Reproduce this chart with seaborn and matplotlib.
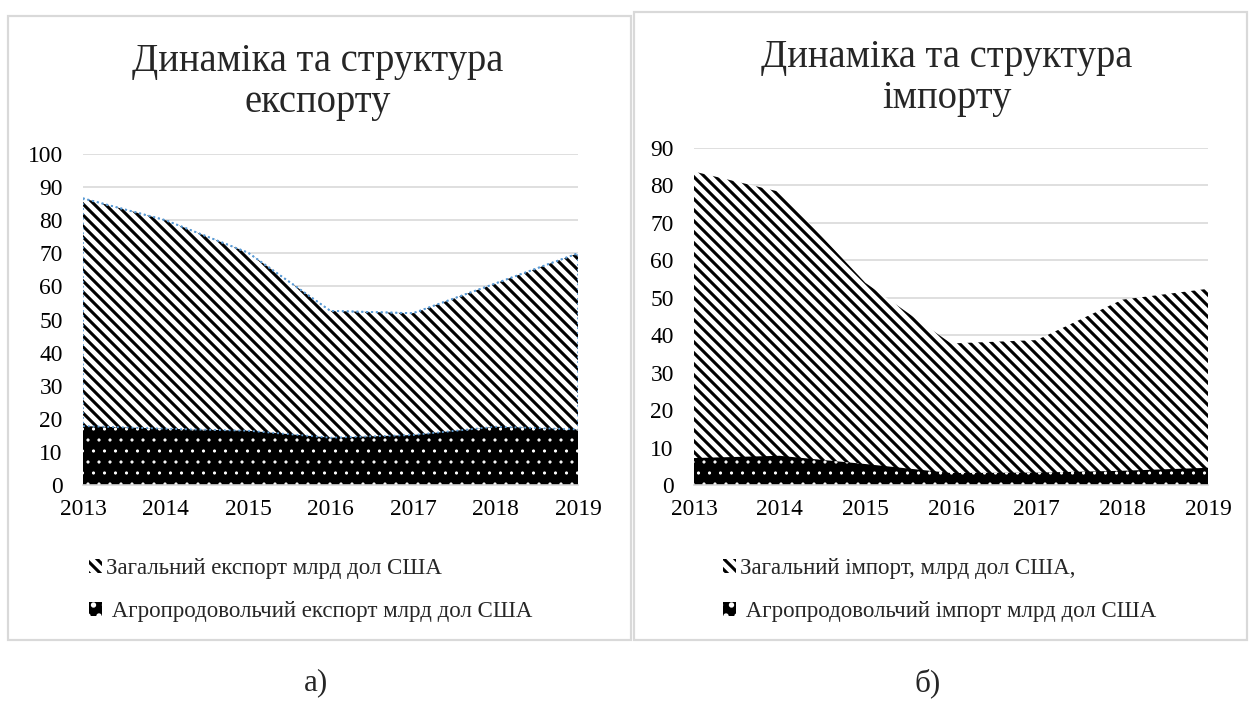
import numpy as np
import pandas as pd
import matplotlib
matplotlib.use("Agg")
import matplotlib as mpl
import matplotlib.pyplot as plt
from matplotlib.patches import Rectangle
import seaborn as sns

# --- données ---
years = [2013, 2014, 2015, 2016, 2017, 2018, 2019]
export_total = [86.6, 80.0, 70.2, 52.6, 51.9, 60.9, 70.0]
export_agro = [17.8, 17.0, 16.4, 14.3, 15.1, 17.6, 16.8]
import_total = [83.7, 78.3, 54.0, 37.8, 38.7, 49.5, 52.4]
import_agro = [7.2, 7.8, 5.6, 3.2, 3.3, 3.8, 4.6]

titles = ["Динаміка та структура\nекспорту", "Динаміка та структура\nімпорту"]
labels_total = ["Загальний експорт млрд дол США", "Загальний імпорт, млрд дол США,"]
labels_agro = [" Агропродовольчий експорт млрд дол США", " Агропродовольчий імпорт млрд дол США"]
panel_tags = ["а)", "б)"]

df_exp = pd.DataFrame({"year": years, "total": export_total, "agro": export_agro})
df_imp = pd.DataFrame({"year": years, "total": import_total, "agro": import_agro})

DPI = 132
W, H = 1251, 704

sns.set_style("white")
plt.rcParams["font.family"] = ["Liberation Serif", "DejaVu Serif"]
plt.rcParams["hatch.linewidth"] = 1.7

fig = plt.figure(figsize=(W / DPI, H / DPI), dpi=DPI)

gris = "#d9d9d9"
bleu = "#5b9bd5"

# cadres des deux panneaux
fig.patches.append(Rectangle((8 / W, 1 - 640 / H), 623 / W, 624 / H, transform=fig.transFigure,
                             fill=False, edgecolor=gris, linewidth=1.2))
fig.patches.append(Rectangle((634 / W, 1 - 640 / H), 613 / W, 628 / H, transform=fig.transFigure,
                             fill=False, edgecolor=gris, linewidth=1.2))

ax1 = fig.add_axes([83 / W, 1 - 485 / H, 495 / W, 331 / H])
ax2 = fig.add_axes([694 / W, 1 - 485 / H, 514 / W, 337 / H])

panels = [
    (ax1, df_exp, 100, True, 318, 82, 89, 558),
    (ax2, df_imp, 90, False, 947, 78, 723, 558),
]

for i, (ax, df, ymax, contour, tx, ty, lx, ly) in enumerate(panels):
    with mpl.rc_context({"hatch.linewidth": 1.7}):
        f_total = ax.fill_between(df["year"], 0, df["total"], facecolor="white", edgecolor="black",
                                  linewidth=0, hatch="\\\\\\\\", zorder=2, label=labels_total[i])
    if contour:
        sns.lineplot(data=df, x="year", y="total", ax=ax, color=bleu, linestyle=":",
                     linewidth=1.0, zorder=3, legend=False)
        ax.fill_between(df["year"], 0, df["total"], facecolor="none", edgecolor=bleu,
                        linestyle=":", linewidth=1.0, zorder=3)
    with mpl.rc_context({"hatch.linewidth": 0.5}):
        f_agro = ax.fill_between(df["year"], 0, df["agro"], facecolor="black", edgecolor="white",
                                 linewidth=0, hatch="..", zorder=4, label=labels_agro[i])
    if contour:
        sns.lineplot(data=df, x="year", y="agro", ax=ax, color=bleu, linestyle=":",
                     linewidth=1.0, zorder=5, legend=False)
    if ax.get_legend() is not None:
        ax.get_legend().remove()

    ax.set_xlim(years[0], years[-1])
    ax.set_ylim(0, ymax)
    ax.set_xticks(years)
    ax.set_yticks(np.arange(0, ymax + 1, 10))
    ax.set_xlabel("")
    ax.set_ylabel("")
    ax.grid(axis="y", color=gris, linewidth=0.9, zorder=0)
    ax.set_axisbelow(True)
    for s in ["top", "right", "left"]:
        ax.spines[s].set_visible(False)
    ax.spines["bottom"].set_color(gris)
    ax.spines["bottom"].set_linewidth(0.9)
    ax.spines["bottom"].set_zorder(6)
    ax.tick_params(axis="x", length=3.5, width=0.9, color=gris, pad=4, labelsize=12.8, labelcolor="black")
    ax.tick_params(axis="y", length=0, pad=11, labelsize=12.8, labelcolor="black")

    fig.text(tx / W, 1 - ty / H, titles[i], ha="center", va="center", fontsize=21, linespacing=1.15)

    fig.legend(handles=[f_total, f_agro], loc="upper left", bbox_to_anchor=(lx / W, 1 - ly / H),
               frameon=False, fontsize=12.5, handlelength=0.55, handleheight=0.55,
               handletextpad=0.2, labelspacing=0.95, borderpad=0, borderaxespad=0)

fig.text(316 / W, 1 - 683 / H, panel_tags[0], ha="center", va="center", fontsize=17)
fig.text(928 / W, 1 - 683 / H, panel_tags[1], ha="center", va="center", fontsize=17)

fig.savefig("out.png", dpi=DPI, facecolor="white")
